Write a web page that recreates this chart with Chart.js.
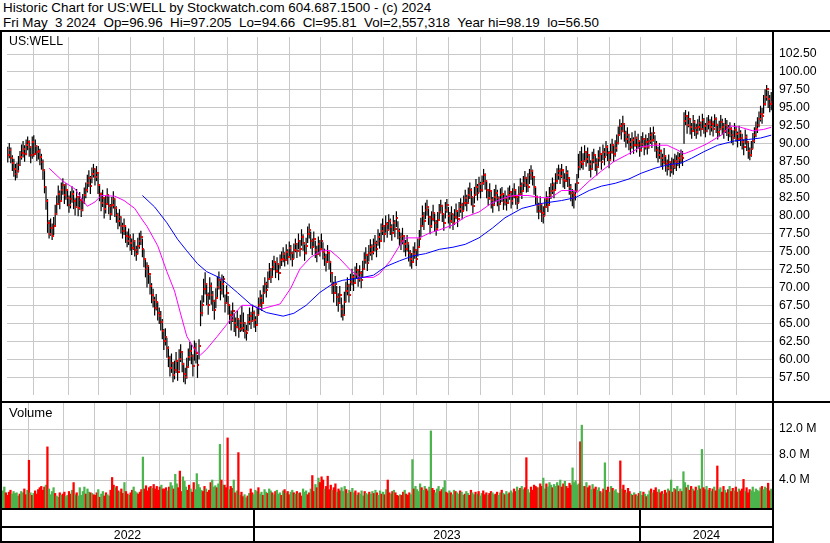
<!DOCTYPE html>
<html>
<head>
<meta charset="utf-8">
<script src="https://cdn.jsdelivr.net/npm/chart.js@4.4.1/dist/chart.umd.min.js"></script>
<style>
  html, body { margin: 0; padding: 0; background: #fff; }
  #wrap { position: relative; width: 830px; height: 543px; overflow: hidden; font-family: "Liberation Sans", Arial, sans-serif; color: #000; }
  .title { position: absolute; left: 3px; font-size: 13.4px; line-height: 15px; white-space: pre; }
  .rule { position: absolute; background: #000; }
  .panel-label { position: absolute; left: 9px; line-height: 14px; }
  .year { position: absolute; top: 529px; font-size: 12.3px; line-height: 13px; text-align: center; }
  canvas { position: absolute; }
</style>
</head>
<body>
<div id="wrap">
  <div class="title" style="top:0">Historic Chart for US:WELL by Stockwatch.com 604.687.1500 - (c) 2024</div>
  <div class="title" style="top:15px">Fri May  3 2024  Op=96.96  Hi=97.205  Lo=94.66  Cl=95.81  Vol=2,557,318  Year hi=98.19  lo=56.50</div>

  <canvas id="price" width="828" height="368" style="left:2px;top:32px"></canvas>
  <canvas id="volume" width="828" height="105" style="left:2px;top:403px"></canvas>

  <div class="panel-label" style="top:34px;font-size:12.3px">US:WELL</div>
  <div class="panel-label" style="top:406px;font-size:13px">Volume</div>

  <!-- 枠線 -->
  <div class="rule" style="left:0;top:30px;width:830px;height:2px"></div>
  <div class="rule" style="left:0;top:30px;width:2px;height:513px"></div>
  <div class="rule" style="left:772px;top:30px;width:2px;height:513px"></div>
  <div class="rule" style="left:0;top:401px;width:830px;height:2px"></div>
  <div class="rule" style="left:0;top:508px;width:774px;height:2px"></div>
  <div class="rule" style="left:0;top:526px;width:774px;height:2px"></div>
  <div class="rule" style="left:0;top:541px;width:774px;height:2px"></div>
  <div class="rule" style="left:253px;top:510px;width:2px;height:32px"></div>
  <div class="rule" style="left:639px;top:510px;width:2px;height:32px"></div>

  <div class="year" style="left:2px;width:251px">2022</div>
  <div class="year" style="left:255px;width:384px">2023</div>
  <div class="year" style="left:641px;width:131px">2024</div>
</div>

<script>
// 日足（2022/5 〜 2024/5/3）
const CLOSES = [
  88.5, 89.2, 88.0, 87.3, 86.5, 85.8, 86.2, 87.0, 88.1, 88.7,
  89.3, 88.6, 89.8, 90.2, 89.5, 88.4, 90.3, 88.6, 89.7, 88.9,
  89.0, 88.2, 87.5, 86.3, 84.0, 82.0, 79.0, 77.5, 78.3, 77.2,
  78.5, 80.2, 81.6, 83.0, 82.1, 83.5, 84.2, 82.8, 83.6, 82.4,
  81.5, 82.3, 83.0, 82.0, 81.2, 82.6, 81.0, 82.2, 80.8, 81.9,
  82.8, 83.5, 84.6, 85.2, 84.1, 85.8, 86.5, 85.4, 86.0, 84.3,
  83.0, 81.8, 82.5, 80.9, 81.6, 82.9, 81.4, 80.2, 81.5, 82.3,
  81.0, 80.1, 79.2, 79.8, 78.6, 77.9, 78.5, 77.2, 76.5, 77.0,
  76.2, 75.5, 76.4, 75.2, 74.6, 75.8, 76.5, 77.0, 75.4, 74.0,
  72.5, 73.0, 71.8, 70.2, 69.0, 68.3, 67.2, 68.0, 66.5, 66.0,
  65.2, 64.0, 62.5, 63.1, 61.5, 60.2, 58.8, 59.5, 57.8, 58.5,
  59.8, 58.2, 60.1, 61.0, 59.4, 58.0, 57.5, 58.9, 60.3, 61.2,
  60.5, 59.0, 61.5, 60.8, 59.2, 61.8, 66.5, 67.5, 69.8, 70.5,
  68.9, 67.6, 70.2, 69.0, 68.1, 66.8, 68.5, 70.0, 71.0, 69.6,
  70.5, 71.2, 67.8, 69.2, 67.5, 66.2, 65.4, 66.7, 65.0, 64.5,
  65.6, 64.2, 65.0, 64.4, 65.1, 64.0, 63.6, 65.2, 66.0, 65.3,
  66.5, 65.5, 64.8, 66.2, 67.5, 68.5, 67.8, 69.2, 70.5, 69.6,
  71.2, 72.4, 71.5, 72.8, 73.5, 72.3, 73.2, 72.0, 73.8, 74.0,
  74.6, 73.8, 75.0, 74.2, 75.5, 74.8, 73.9, 75.2, 76.0, 75.1,
  76.5, 75.3, 77.0, 76.2, 74.8, 75.8, 77.4, 78.0, 76.5, 75.6,
  76.8, 75.2, 74.6, 76.0, 75.4, 76.5, 75.0, 74.2, 73.5, 74.8,
  73.6, 72.0, 70.4, 69.2, 70.5, 68.6, 67.8, 69.0, 67.0, 66.2,
  68.0, 69.5, 70.2, 69.0, 70.8, 71.5, 70.6, 71.8, 72.4, 71.2,
  72.0, 71.0, 72.6, 73.8, 74.5, 73.4, 74.8, 75.6, 74.9, 75.8,
  76.2, 75.3, 77.0, 76.5, 77.8, 78.5, 77.4, 78.9, 78.0, 79.2,
  78.4, 77.6, 79.0, 78.2, 79.6, 77.8, 77.0, 76.4, 77.2, 76.0,
  75.4, 76.2, 74.8, 74.0, 73.5, 74.6, 75.2, 74.0, 75.6, 76.8,
  78.5, 80.0, 79.2, 80.8, 81.2, 79.8, 78.6, 79.5, 80.4, 79.0,
  78.2, 79.4, 80.5, 81.4, 80.2, 79.0, 80.8, 81.5, 80.0, 79.3,
  80.2, 79.0, 79.8, 80.6, 79.5, 80.9, 81.5, 80.6, 81.8, 82.5,
  81.8, 82.8, 83.5, 82.6, 81.4, 82.9, 84.0, 83.2, 84.4, 83.5,
  84.5, 85.6, 84.8, 83.6, 82.5, 83.4, 82.2, 81.5, 82.6, 83.2,
  82.4, 81.6, 82.8, 83.0, 81.9, 82.5, 81.7, 82.9, 83.3, 82.1,
  82.7, 83.5, 82.6, 81.8, 83.0, 84.1, 83.4, 84.5, 85.2, 84.3,
  84.0, 85.6, 86.2, 85.4, 84.0, 82.6, 81.5, 80.6, 81.6, 80.3,
  80.0, 81.2, 82.3, 81.5, 82.9, 83.4, 84.2, 83.5, 84.8, 85.6,
  86.2, 85.5, 86.4, 85.0, 84.8, 85.9, 85.2, 84.0, 83.2, 82.5,
  82.8, 83.4, 84.6, 86.8, 87.5, 87.2, 87.6, 88.8, 87.9, 88.5,
  87.2, 86.5, 87.8, 88.4, 87.3, 86.8, 88.0, 88.6, 87.5, 88.9,
  88.2, 89.5, 88.7, 87.8, 88.9, 89.8, 88.6, 89.4, 90.1, 91.2,
  92.5, 91.8, 92.8, 91.5, 90.6, 91.2, 90.2, 89.6, 90.5, 89.8,
  90.8, 89.9, 90.4, 89.2, 90.0, 90.6, 89.5, 90.3, 89.6, 90.4,
  91.2, 90.5, 91.5, 90.0, 89.2, 88.5, 89.0, 88.0, 87.5, 88.3,
  87.2, 86.6, 87.5, 86.3, 87.0, 86.8, 87.6, 87.3, 88.0, 87.7,
  88.3, 88.0, 93.2, 93.8, 92.6, 93.5, 92.4, 91.8, 93.0, 92.2,
  91.6, 92.4, 92.9, 92.0, 93.3, 92.5, 91.8, 92.7, 93.1, 92.3,
  92.8, 92.0, 93.4, 92.6, 91.6, 92.1, 93.0, 92.4, 91.8, 92.6,
  92.2, 91.5, 92.0, 91.2, 90.8, 91.9, 91.4, 90.6, 91.5, 90.8,
  90.3, 89.5, 91.0, 90.2, 89.0, 88.4, 89.3, 90.4, 91.2, 92.0,
  92.6, 93.4, 94.2, 93.8, 95.6, 96.5, 97.6, 96.2, 95.5, 95.81,
];

const HIGHS = [
  89.6, 90.1, 89.5, 88.4, 87.9, 87.2, 87.4, 88.3, 89.0, 89.9,
  90.4, 89.8, 90.6, 91.0, 90.5, 89.7, 91.0, 91.2, 90.6, 89.8,
  89.7, 89.3, 88.6, 87.8, 86.2, 84.1, 82.3, 79.4, 79.6, 78.9,
  79.8, 81.5, 82.8, 84.2, 83.5, 84.6, 85.2, 84.3, 84.5, 83.7,
  82.8, 83.4, 84.1, 83.5, 82.4, 83.7, 82.5, 83.3, 82.1, 83.0,
  83.9, 84.6, 85.7, 86.3, 85.5, 86.7, 87.2, 86.6, 86.9, 85.8,
  84.4, 83.2, 83.6, 82.4, 82.8, 83.8, 82.7, 81.6, 82.6, 83.4,
  82.4, 81.3, 80.4, 80.9, 79.9, 79.0, 79.6, 78.6, 77.8, 78.2,
  77.4, 76.8, 77.5, 76.6, 75.8, 76.9, 77.6, 77.9, 76.8, 75.3,
  74.1, 73.5, 72.9, 71.7, 70.6, 69.8, 68.7, 69.1, 68.0, 67.2,
  66.7, 65.6, 64.2, 64.3, 63.0, 61.8, 60.5, 60.8, 59.6, 59.8,
  61.0, 59.9, 61.4, 62.1, 60.9, 59.5, 58.8, 60.2, 61.5, 62.4,
  62.0, 60.7, 62.6, 62.3, 60.6, 62.8, 68.2, 68.9, 71.2, 72.1,
  70.6, 69.3, 71.4, 70.7, 69.5, 68.3, 69.9, 71.5, 72.2, 71.0,
  71.8, 71.6, 69.0, 70.3, 68.8, 67.6, 66.8, 67.9, 66.4, 65.8,
  66.8, 65.5, 66.2, 67.4, 66.5, 65.2, 64.8, 66.3, 67.2, 66.6,
  67.6, 66.8, 66.0, 67.3, 68.6, 69.6, 69.0, 70.3, 71.4, 70.8,
  72.2, 73.4, 72.7, 73.8, 74.4, 73.5, 74.2, 73.3, 74.6, 75.0,
  75.6, 74.9, 76.0, 75.3, 76.4, 75.9, 75.0, 76.1, 76.8, 76.2,
  77.5, 76.6, 78.1, 77.4, 76.0, 76.9, 78.5, 78.9, 77.8, 76.8,
  77.8, 76.5, 75.8, 77.1, 76.6, 77.5, 76.3, 75.4, 74.7, 75.9,
  75.0, 73.7, 72.1, 70.8, 71.6, 70.2, 69.2, 70.2, 68.6, 67.6,
  69.4, 70.8, 71.4, 70.5, 71.9, 72.6, 71.8, 72.9, 73.4, 72.5,
  73.1, 72.3, 73.7, 74.9, 75.6, 74.7, 75.9, 76.7, 76.0, 76.8,
  77.3, 76.5, 78.1, 77.6, 78.9, 79.6, 78.6, 80.0, 79.1, 80.2,
  79.6, 78.8, 80.1, 79.4, 80.6, 79.2, 78.2, 77.6, 78.3, 77.3,
  76.6, 77.3, 76.0, 75.2, 74.8, 75.7, 76.3, 75.3, 76.8, 78.0,
  79.7, 81.4, 80.5, 81.8, 82.2, 81.0, 79.9, 80.6, 81.5, 80.3,
  79.4, 80.5, 81.6, 82.2, 81.5, 80.3, 81.9, 82.3, 81.2, 80.5,
  81.3, 80.3, 80.9, 81.7, 80.7, 81.9, 82.4, 81.8, 82.8, 83.6,
  82.9, 83.9, 84.6, 83.8, 82.6, 84.0, 85.1, 84.4, 85.4, 84.7,
  85.6, 86.5, 85.9, 84.9, 83.7, 84.5, 83.4, 82.6, 83.7, 84.3,
  83.6, 82.7, 83.8, 84.0, 83.1, 83.5, 82.8, 83.9, 84.2, 83.3,
  83.8, 84.5, 83.7, 82.9, 84.1, 85.2, 84.6, 85.5, 86.2, 85.4,
  85.9, 86.5, 87.0, 86.4, 85.3, 84.0, 82.8, 81.8, 82.7, 81.6,
  81.3, 82.4, 83.4, 82.7, 84.0, 84.5, 85.3, 84.6, 85.9, 86.6,
  87.1, 86.6, 87.2, 86.2, 85.9, 86.9, 86.3, 85.2, 84.4, 83.7,
  83.4, 84.5, 85.8, 88.6, 89.0, 89.6, 88.7, 89.8, 89.0, 89.5,
  88.5, 87.7, 88.9, 89.3, 88.5, 88.0, 89.1, 89.6, 88.7, 89.9,
  89.4, 90.4, 89.8, 89.0, 90.0, 90.7, 89.8, 90.5, 91.3, 92.4,
  93.4, 92.9, 93.9, 92.7, 91.8, 92.3, 91.4, 90.8, 91.6, 90.9,
  91.8, 91.0, 91.4, 90.4, 91.1, 91.6, 90.7, 91.3, 90.8, 91.5,
  92.3, 91.6, 92.4, 91.2, 90.4, 89.6, 90.1, 89.2, 88.6, 89.4,
  88.4, 87.8, 88.5, 87.4, 88.1, 87.9, 88.6, 88.4, 88.9, 88.7,
  89.2, 89.0, 94.4, 94.7, 93.8, 94.5, 93.6, 92.9, 94.0, 93.3,
  92.8, 93.4, 93.9, 93.1, 94.2, 93.6, 92.9, 93.7, 94.0, 93.4,
  93.8, 93.2, 94.1, 93.7, 92.8, 93.2, 94.0, 93.5, 92.9, 93.6,
  93.3, 92.6, 93.0, 92.3, 91.9, 92.9, 92.5, 91.7, 92.5, 91.9,
  91.4, 90.6, 92.0, 91.3, 90.2, 89.5, 90.4, 91.5, 92.3, 93.1,
  93.7, 94.5, 95.3, 95.0, 96.8, 97.6, 98.19, 97.4, 96.8, 97.205,
];

const LOWS = [
  87.4, 88.0, 87.3, 86.2, 85.4, 84.9, 85.2, 86.0, 86.9, 87.8,
  88.1, 87.5, 88.4, 89.1, 88.2, 87.3, 87.9, 88.2, 88.5, 87.6,
  87.8, 87.0, 86.4, 85.0, 83.1, 80.8, 77.6, 76.8, 77.2, 76.6,
  77.3, 78.4, 80.1, 81.5, 80.9, 82.0, 82.9, 81.6, 82.2, 81.3,
  80.4, 81.0, 81.8, 80.9, 80.0, 81.1, 79.9, 80.8, 79.8, 80.6,
  81.6, 82.4, 83.2, 84.0, 83.0, 84.5, 85.3, 84.2, 84.8, 83.0,
  82.0, 80.6, 81.2, 79.6, 80.3, 81.5, 80.2, 79.4, 80.0, 81.0,
  79.8, 79.0, 78.1, 78.5, 77.5, 76.8, 77.3, 76.2, 75.6, 75.9,
  75.1, 74.5, 75.2, 74.3, 73.7, 74.6, 75.4, 75.9, 74.2, 72.8,
  71.4, 70.0, 70.5, 69.0, 67.8, 67.2, 66.1, 66.8, 65.4, 64.9,
  64.0, 62.8, 61.3, 61.9, 60.2, 58.9, 57.6, 58.1, 56.8, 57.2,
  58.1, 57.0, 58.4, 59.6, 58.2, 56.8, 56.5, 57.3, 58.9, 59.8,
  59.3, 57.6, 59.8, 59.4, 57.4, 60.0, 64.6, 66.0, 67.9, 69.0,
  67.5, 66.2, 68.3, 67.6, 66.7, 65.5, 67.1, 68.6, 69.7, 68.2,
  69.0, 68.6, 66.5, 67.8, 66.2, 64.9, 64.0, 65.2, 63.8, 63.2,
  64.3, 63.0, 63.8, 63.9, 63.8, 62.9, 62.6, 63.9, 64.8, 64.2,
  65.3, 64.4, 63.8, 64.9, 66.2, 67.3, 66.7, 67.9, 69.2, 68.6,
  69.9, 71.1, 70.6, 71.6, 72.4, 71.3, 72.0, 71.0, 72.6, 73.0,
  73.5, 72.9, 73.8, 73.2, 74.3, 73.8, 72.9, 74.0, 74.9, 74.1,
  75.3, 74.3, 75.8, 75.1, 73.7, 74.6, 76.2, 76.8, 75.4, 74.5,
  75.6, 74.1, 73.5, 74.8, 74.3, 75.3, 73.9, 73.0, 72.2, 73.6,
  72.5, 70.7, 69.1, 67.9, 69.2, 67.4, 66.6, 67.7, 65.8, 65.4,
  66.3, 67.9, 68.9, 67.9, 69.5, 70.3, 69.5, 70.5, 71.2, 70.1,
  70.8, 69.9, 71.3, 72.6, 73.3, 72.3, 73.6, 74.4, 73.8, 74.6,
  75.0, 74.2, 75.8, 75.4, 76.6, 77.3, 76.3, 77.6, 76.9, 78.0,
  77.3, 76.5, 77.8, 77.0, 78.4, 76.7, 75.8, 75.2, 76.0, 74.9,
  74.3, 75.0, 73.6, 72.9, 72.6, 73.4, 74.0, 73.0, 74.3, 75.5,
  77.0, 78.6, 78.0, 79.5, 80.0, 78.7, 77.4, 78.3, 79.2, 77.8,
  77.2, 78.2, 79.3, 80.3, 79.1, 77.9, 79.6, 80.4, 78.9, 78.2,
  79.0, 78.0, 78.7, 79.5, 78.4, 79.8, 80.4, 79.5, 80.7, 81.3,
  80.6, 81.6, 82.3, 81.4, 80.3, 81.7, 82.8, 82.1, 83.2, 82.4,
  83.3, 84.3, 83.6, 82.4, 81.4, 82.2, 81.0, 80.4, 81.4, 82.0,
  81.3, 80.6, 81.6, 81.9, 80.8, 81.4, 80.7, 81.7, 82.2, 81.0,
  81.5, 82.4, 81.5, 80.9, 81.8, 82.9, 82.3, 83.3, 84.0, 83.2,
  83.3, 84.4, 85.0, 84.2, 82.9, 81.5, 80.4, 79.5, 80.4, 79.1,
  78.9, 80.0, 81.1, 80.5, 81.6, 82.3, 83.0, 82.4, 83.6, 84.4,
  85.0, 84.4, 85.2, 83.9, 83.7, 84.7, 84.0, 82.9, 82.0, 81.3,
  81.0, 82.1, 83.4, 85.2, 86.3, 86.6, 86.4, 87.5, 86.8, 87.3,
  86.2, 85.3, 86.6, 87.3, 86.2, 85.6, 86.8, 87.5, 86.4, 87.7,
  87.0, 88.3, 87.6, 86.6, 87.7, 88.6, 87.5, 88.2, 88.9, 89.9,
  91.2, 90.6, 91.6, 90.3, 89.5, 90.0, 89.1, 88.5, 89.3, 88.6,
  89.6, 88.8, 89.3, 88.2, 88.9, 89.5, 88.4, 89.2, 88.5, 89.3,
  90.0, 89.4, 90.3, 88.9, 88.0, 87.4, 87.9, 86.9, 86.4, 87.1,
  86.1, 85.6, 86.3, 85.4, 85.9, 85.7, 86.5, 86.2, 86.9, 86.6,
  87.3, 86.9, 90.0, 92.6, 91.4, 92.3, 91.3, 90.7, 91.8, 91.1,
  90.7, 91.3, 91.8, 91.0, 92.2, 91.4, 90.9, 91.6, 92.0, 91.2,
  91.7, 91.0, 92.3, 91.5, 90.6, 91.0, 91.9, 91.3, 90.7, 91.5,
  91.1, 90.4, 90.9, 90.1, 89.8, 90.8, 90.3, 89.5, 90.4, 89.7,
  89.2, 88.4, 89.9, 89.0, 87.9, 87.7, 88.2, 89.3, 90.1, 90.9,
  91.5, 92.3, 93.1, 92.8, 94.2, 95.3, 96.0, 95.0, 94.4, 94.66,
];

// 出来高（百万株）
const VOLUMES = [
  2.3, 2.9, 2.0, 1.6, 2.1, 2.4, 1.8, 2.2, 1.9, 2.0,
  1.5, 1.8, 2.2, 2.0, 2.6, 1.7, 2.4, 7.1, 2.0, 1.6,
  1.9, 2.3, 1.8, 2.5, 2.8, 3.0, 2.4, 2.9, 3.2, 9.2,
  2.6, 1.7, 2.2, 2.8, 1.9, 1.5, 1.3, 2.0, 1.6, 1.8,
  2.1, 1.4, 1.6, 2.2, 1.8, 2.4, 3.6, 1.7, 2.0, 1.5,
  2.8, 1.6, 2.2, 2.9, 1.8, 2.6, 2.1, 2.0, 1.9, 1.7,
  1.6, 2.0, 2.5, 1.3, 1.8, 2.2, 1.5, 2.0, 1.7, 1.5,
  2.4, 4.4, 3.2, 2.8, 3.0, 2.3, 2.1, 2.6, 1.9, 3.6,
  2.2, 1.8, 1.6, 2.0, 2.4, 2.9, 2.2, 2.0, 1.8, 2.1,
  2.5, 7.6, 2.6, 3.1, 2.3, 2.8, 3.0, 2.7, 3.3, 2.6,
  3.0, 2.4, 2.9, 3.2, 2.6, 2.6, 2.8, 2.3, 2.9, 3.6,
  3.1, 2.6, 4.9, 3.4, 2.8, 5.4, 2.2, 4.5, 3.8, 2.9,
  2.4, 3.2, 2.6, 2.1, 3.6, 2.5, 5.0, 3.3, 2.8, 2.4,
  2.2, 3.0, 2.6, 2.1, 2.4, 3.6, 4.0, 2.9, 3.1, 2.8,
  3.4, 9.6, 4.0, 3.2, 3.2, 2.8, 10.6, 2.5, 3.0, 2.7,
  4.0, 2.0, 2.3, 8.3, 1.6, 2.1, 1.4, 1.7, 1.2, 1.5,
  1.9, 2.6, 2.0, 1.7, 2.4, 2.2, 2.8, 1.8, 2.1, 1.6,
  2.5, 2.1, 1.9, 2.6, 2.3, 2.0, 1.7, 2.2, 2.4, 1.8,
  2.0, 1.6, 2.3, 2.5, 1.9, 2.2, 1.7, 2.1, 2.4, 2.0,
  1.8, 2.2, 1.9, 2.0, 1.5, 2.6, 2.1, 2.3, 1.7, 2.0,
  2.6, 4.7, 2.2, 3.3, 2.8, 4.3, 3.6, 4.5, 4.0, 2.6,
  3.0, 4.6, 2.5, 3.2, 2.4, 2.8, 3.4, 2.1, 2.6, 2.3,
  2.8, 2.2, 3.0, 2.5, 1.9, 2.4, 2.1, 2.7, 2.0, 2.3,
  1.6, 2.0, 1.8, 2.3, 1.5, 2.2, 1.9, 1.7, 2.1, 1.8,
  2.2, 1.9, 2.4, 2.0, 1.6, 2.3, 1.8, 2.1, 1.7, 2.5,
  4.0, 2.0, 1.8, 2.2, 2.4, 2.0, 1.6, 1.5, 1.7, 1.6,
  2.1, 2.4, 1.8, 1.6, 2.0, 1.7, 7.2, 2.6, 3.0, 2.5,
  2.2, 3.4, 2.8, 2.4, 3.0, 2.6, 2.3, 2.9, 11.7, 2.7,
  2.4, 2.0, 2.6, 3.0, 2.2, 2.5, 2.8, 3.9, 2.1, 1.9,
  2.3, 2.0, 1.7, 2.4, 2.2, 2.0, 1.8, 2.3, 2.1, 1.6,
  1.8, 2.2, 1.9, 1.6, 2.4, 2.0, 1.7, 2.1, 1.8, 2.2,
  1.5, 1.9, 2.3, 1.7, 2.0, 1.6, 1.9, 2.2, 2.0, 1.7,
  1.8, 2.1, 1.6, 2.0, 2.4, 1.9, 1.7, 2.2, 1.8, 2.0,
  2.3, 2.0, 2.6, 2.2, 2.9, 2.4, 2.7, 3.0, 2.5, 2.8,
  7.5, 2.5, 2.0, 2.9, 2.4, 3.2, 3.0, 2.8, 2.8, 3.4,
  3.0, 4.3, 2.6, 3.4, 2.9, 3.6, 3.2, 2.8, 3.3, 3.0,
  3.6, 3.1, 4.0, 2.9, 3.4, 3.8, 3.0, 2.7, 3.5, 3.2,
  5.9, 3.6, 3.9, 3.2, 3.4, 10.0, 12.6, 3.0, 3.0, 3.6,
  2.8, 3.1, 2.5, 3.3, 2.6, 2.9, 2.4, 2.8, 2.2, 2.0,
  2.6, 6.7, 2.4, 2.9, 2.1, 3.0, 2.7, 2.3, 2.5, 2.0,
  1.9, 7.0, 2.6, 3.2, 2.4, 2.0, 2.7, 2.2, 1.8, 1.6,
  2.0, 1.7, 1.5, 1.9, 2.2, 1.6, 2.1, 1.8, 1.4, 1.7,
  2.3, 2.6, 2.0, 2.4, 2.8, 2.1, 2.5, 2.0, 2.2, 1.8,
  2.4, 2.0, 2.6, 2.3, 4.0, 2.1, 2.7, 2.5, 3.0, 2.2,
  2.6, 2.2, 5.3, 3.6, 2.8, 3.2, 2.4, 3.0, 2.6, 2.3,
  2.9, 2.4, 3.1, 2.6, 8.8, 2.8, 2.5, 3.0, 2.4, 2.7,
  2.2, 2.6, 2.9, 2.3, 6.2, 2.5, 2.8, 2.1, 3.0, 2.4,
  2.0, 2.5, 3.0, 2.2, 2.7, 2.3, 2.9, 2.1, 2.6, 2.3,
  2.6, 4.1, 2.2, 2.8, 2.0, 2.5, 2.3, 2.9, 2.1, 2.6,
  2.4, 2.2, 2.8, 3.0, 2.5, 2.9, 2.7, 3.5, 2.3, 2.56,
];

// 移動平均線（読み取り値、x は日番号）
const MA_FAST_X = [27, 36, 44, 49, 52, 57, 61, 70, 76, 83, 87, 91, 98, 104, 109, 113, 117, 122, 126, 130, 137, 143, 148, 153, 159, 166, 178, 185, 191, 198, 206, 211, 217, 224, 230, 239, 243, 250, 256, 260, 269, 276, 282, 291, 299, 308, 316, 325, 331, 340, 349, 355, 362, 370, 372, 380, 388, 396, 405, 414, 422, 431, 438, 442, 448, 457, 467, 472, 479, 487, 494, 499];
const MA_FAST_Y = [86.6, 84.8, 83.7, 82.1, 81.3, 81.9, 82.8, 82.7, 82.1, 81.0, 79.7, 78.5, 75.8, 72.2, 69.5, 66.3, 63.2, 61.4, 60.6, 61.4, 63.2, 64.8, 66.3, 67.5, 67.5, 67.0, 67.7, 69.9, 72.6, 74.2, 75.2, 75.1, 74.0, 72.4, 71.4, 71.4, 71.9, 73.7, 75.8, 76.9, 76.9, 77.6, 78.0, 78.7, 79.8, 80.5, 81.7, 82.5, 82.8, 82.8, 82.5, 82.5, 83.5, 83.5, 83.2, 84.8, 86.2, 87.5, 88.5, 89.6, 89.8, 89.8, 89.1, 88.6, 89.1, 90.0, 91.3, 92.5, 92.3, 91.8, 92.0, 92.3];
const MA_SLOW_X = [88, 96, 104, 111, 117, 124, 130, 139, 150, 159, 169, 180, 187, 195, 204, 213, 219, 230, 239, 247, 256, 265, 273, 282, 291, 299, 308, 317, 325, 336, 349, 362, 371, 380, 388, 397, 406, 414, 423, 432, 440, 447, 455, 464, 475, 484, 492, 499];
const MA_SLOW_Y = [82.8, 81.2, 79.0, 76.7, 75.1, 73.3, 72.2, 71.3, 69.3, 67.6, 66.5, 66.0, 66.4, 67.5, 69.3, 70.6, 71.0, 71.3, 71.7, 72.9, 73.7, 74.4, 74.7, 75.3, 75.6, 76.0, 76.9, 78.3, 79.7, 81.0, 81.7, 82.1, 82.5, 83.5, 84.1, 84.5, 85.1, 85.9, 86.6, 87.1, 87.3, 88.0, 88.9, 89.8, 90.4, 90.6, 90.8, 91.2];

// 月初の位置（日番号）と目盛
const MONTH_TICKS = [17, 39.5, 59.5, 80.5, 101.5, 122, 143.5, 163.5, 184, 204.5, 225, 245.5, 267, 288, 309, 330, 350.5, 372.5, 393.5, 413.5, 434.5, 455.5, 476];
const PRICE_TICKS = [57.5, 60, 62.5, 65, 67.5, 70, 72.5, 75, 77.5, 80, 82.5, 85, 87.5, 90, 92.5, 95, 97.5, 100, 102.5];
const VOLUME_TICKS = [4, 8, 12];

const PRICE_MIN = 55.02, PRICE_MAX = 104.87;
const VOL_MIN = -0.39, VOL_MAX = 16.08;

const GRID = '#c8c8c8';
const FONT = '"Liberation Sans", Arial, sans-serif';
const N = CLOSES.length;

function noPad(s) {
  s.paddingTop = 0; s.paddingBottom = 0; s.paddingLeft = 0; s.paddingRight = 0;
}

// 共通の横軸（月の区切り線だけ）
function xAxis() {
  return {
    type: 'linear', min: -0.5, max: N - 0.5, offset: false,
    afterBuildTicks: s => { s.ticks = MONTH_TICKS.map(v => ({ value: v })); },
    afterFit: s => { s.height = 0; noPad(s); },
    ticks: { display: false },
    grid: { color: GRID, drawTicks: false, offset: false },
    border: { display: false },
  };
}

function yAxis(min, max, ticks, fmt) {
  return {
    type: 'linear', position: 'right', min, max,
    afterBuildTicks: s => { s.ticks = ticks.map(v => ({ value: v })); },
    afterFit: s => { s.width = 58; noPad(s); },
    ticks: { padding: 7, color: '#000', font: { family: FONT, size: 12.3 }, callback: fmt },
    grid: { color: GRID, drawTicks: false },
    border: { display: false },
  };
}

const common = {
  responsive: false,
  animation: false,
  devicePixelRatio: 1,
  layout: { padding: 0 },
  plugins: { legend: { display: false }, tooltip: { enabled: false } },
  events: [],
};

// 終値の印（バーの右側に小さな赤）
const closeMark = document.createElement('canvas');
closeMark.width = 4;
closeMark.height = 2;
const cm = closeMark.getContext('2d');
cm.fillStyle = '#ff0000';
cm.fillRect(2, 0, 2, 2);

// 株価チャート
new Chart(document.getElementById('price'), {
  type: 'bar',
  data: {
    datasets: [
      {
        type: 'line', order: 0,
        data: MA_SLOW_X.map((x, i) => ({ x, y: MA_SLOW_Y[i] })),
        borderColor: '#0000ff', borderWidth: 1, pointRadius: 0, tension: 0,
      },
      {
        type: 'line', order: 0,
        data: MA_FAST_X.map((x, i) => ({ x, y: MA_FAST_Y[i] })),
        borderColor: '#ff00ff', borderWidth: 1, pointRadius: 0, tension: 0,
      },
      {
        type: 'line', order: 1, showLine: false,
        data: CLOSES.map((c, i) => ({ x: i, y: c })),
        pointStyle: closeMark, pointRadius: 1,
      },
      {
        type: 'bar', order: 2,
        data: CLOSES.map((_, i) => ({ x: i, y: [LOWS[i], HIGHS[i]] })),
        backgroundColor: '#000', barThickness: 1.2, borderWidth: 0, inflateAmount: 0,
      },
    ],
  },
  options: {
    ...common,
    scales: {
      x: xAxis(),
      y: yAxis(PRICE_MIN, PRICE_MAX, PRICE_TICKS, v => v.toFixed(2)),
    },
  },
});

// 出来高チャート（前日比で色分け）
const volColors = CLOSES.map((c, i) => {
  if (i === 0 || c > CLOSES[i - 1]) return '#4cb44c';
  if (c < CLOSES[i - 1]) return '#ff0000';
  return '#a8a8a8';
});

new Chart(document.getElementById('volume'), {
  type: 'bar',
  data: {
    datasets: [{
      data: VOLUMES.map((v, i) => ({ x: i, y: v })),
      backgroundColor: volColors, barThickness: 1.6, borderWidth: 0,
      base: VOL_MIN,
    }],
  },
  options: {
    ...common,
    scales: {
      x: xAxis(),
      y: yAxis(VOL_MIN, VOL_MAX, VOLUME_TICKS, v => v.toFixed(1) + ' M'),
    },
  },
});
</script>
</body>
</html>
